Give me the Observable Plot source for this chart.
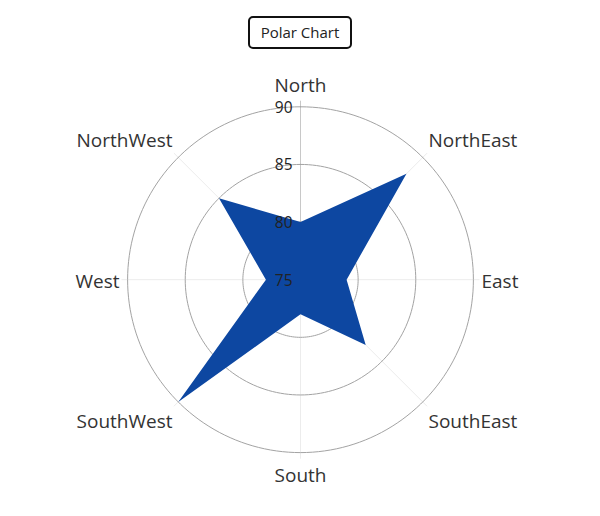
<!DOCTYPE html>
<html>
<head>
<meta charset="utf-8">
<script src="https://cdn.jsdelivr.net/npm/d3@7"></script>
<script src="https://cdn.jsdelivr.net/npm/@observablehq/plot@0.6"></script>
<style>
  html, body { margin: 0; padding: 0; background: #fff; }
  #wrap { position: relative; width: 600px; height: 516px; font-family: "Open Sans", "Noto Sans", sans-serif; }
  #title { position: absolute; left: 248px; top: 16px; width: 100px; height: 29px; border: 2px solid #111; border-radius: 5px;
           font-size: 15px; color: #222; text-align: center; line-height: 29px; background: #fff; z-index: 2; }
  #chart { position: absolute; left: 0; top: 0; }
</style>
</head>
<body>
<div id="wrap"><div id="title">Polar Chart</div><div id="chart"></div></div>
<script>
const directions = ["North", "NorthEast", "East", "SouthEast", "South", "SouthWest", "West", "NorthWest"];
const values = [80, 88, 79, 83, 78, 90, 78, 85];
const radialTicks = [75, 80, 85, 90];
const rMin = 75, rMax = 90;

const W = 600, H = 516, cx = 300, cy = 279.2, outerPx = 172.9;
const k = outerPx / (rMax - rMin);

const ang = i => i * Math.PI / 4;
const polar = (r, a) => ({x: r * Math.sin(a), y: r * Math.cos(a)});

const shape = values.map((v, i) => ({...polar(v - rMin, ang(i)), dir: directions[i], value: v}));

const rings = radialTicks.slice(1).flatMap(t =>
  d3.range(0, 361, 2).map(d => ({...polar(t - rMin, d * Math.PI / 180), tick: t})));

const spokeLen = 179 / k;
const spokes = directions.map((d, i) => ({dir: d, i, ...polar(spokeLen, ang(i))}));

const labelR = 181 / k;
const anchors = [
  ["middle", "bottom", -7], ["start", "bottom", -5], ["start", "middle", 2], ["start", "top", 7],
  ["middle", "top", 8], ["end", "top", 7], ["end", "middle", 2], ["end", "bottom", -5]
];
const labels = directions.map((d, i) => ({dir: d, i, ...polar(labelR, ang(i))}));

const tickLabels = radialTicks.map(t => ({t, x: 0, y: t - rMin}));

const marks = [
  Plot.link(spokes, {x1: 0, y1: 0, x2: "x", y2: "y", stroke: d => d.i === 0 ? "#c8c8c8" : "#ececec", strokeWidth: 1}),
  Plot.line(rings, {x: "x", y: "y", z: "tick", stroke: "#a3a3a3", strokeWidth: 1}),
  Plot.line(shape, {x: "x", y: "y", curve: "linear-closed", fill: "#0D47A1", stroke: "none"}),
  Plot.text(tickLabels, {x: "x", y: "y", text: d => String(d.t), textAnchor: "end", dx: -8, dy: 1, fontSize: 15.5, fill: "#222"})
];
labels.forEach((l, i) => {
  const [ta, la, dy] = anchors[i];
  marks.push(Plot.text([l], {x: "x", y: "y", text: "dir", textAnchor: ta, lineAnchor: la, dy, fontSize: 19, fill: "#333"}));
});

const chart = Plot.plot({
  width: W, height: H,
  margin: 0,
  style: {fontFamily: "'Open Sans', 'Noto Sans', sans-serif", background: "#fff"},
  x: {domain: [-cx / k, (W - cx) / k], axis: null},
  y: {domain: [-(H - cy) / k, cy / k], axis: null},
  marks
});
document.getElementById("chart").appendChild(chart);
</script>
</body>
</html>
